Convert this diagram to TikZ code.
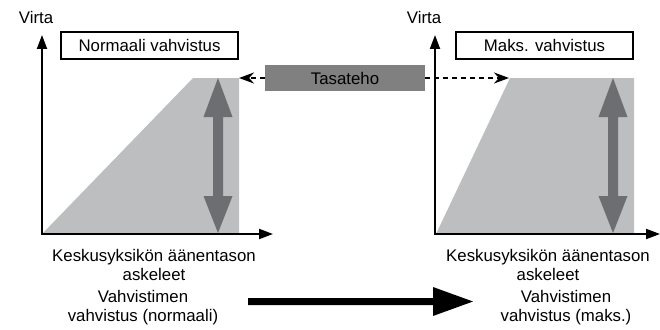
\documentclass[tikz,border=0pt]{standalone}
\usepackage{fontspec}
\setmainfont{Liberation Sans}
\usetikzlibrary{arrows.meta}
\definecolor{lightg}{HTML}{BCBEC0}
\definecolor{darkg}{HTML}{6D6E71}
\definecolor{boxg}{HTML}{808080}
\begin{document}
\begin{tikzpicture}[x=1pt,y=-1pt,
  txt/.style={font=\fontsize{16.8}{20}\selectfont, inner sep=0pt, align=center},
  axis/.style={line width=2pt, -{Triangle[length=14pt,width=10pt]}},
  titlebox/.style={draw=black, line width=2pt, fill=white, minimum width=177pt, minimum height=27pt, inner sep=0pt, font=\fontsize{16.8}{20}\selectfont},
  dasharr/.style={line width=1.6pt, dash pattern=on 5pt off 4pt, -{Stealth[length=15pt,width=11pt]}},
  dbl/.style={fill=darkg}
]
\useasboundingbox (0,0) rectangle (660,329);
% left chart
\fill[lightg] (42,234) -- (193,78) -- (239,78) -- (239,234) -- cycle;
\fill[dbl] (218,78) -- (232.5,117) -- (223,117) -- (223,196) -- (232.5,196) -- (218,233) -- (203.5,196) -- (213,196) -- (213,117) -- (203.5,117) -- cycle;
\coordinate (lo) at (42,235);
\coordinate (ly) at (42,35);
\coordinate (lx) at (273,234);
\draw[axis] (lo) -- (ly);
\draw[axis] (41,234) -- (lx);
\node[txt] (virtaL) at (36,17) {Virta};
\node[titlebox] (normal) at (149.5,45.5) {Normaali vahvistus};
\node[txt] (stepsL) at (154,265) {Keskusyksikön äänentason\\[-1pt]askeleet};
\node[txt] (gainL) at (143,308) {Vahvistimen\\[-1pt]vahvistus (normaali)};
% right chart
\fill[lightg] (436,234) -- (510,78) -- (634,78) -- (634,234) -- cycle;
\fill[dbl] (613,78) -- (627.5,117) -- (618,117) -- (618,196) -- (627.5,196) -- (613,233) -- (598.5,196) -- (608,196) -- (608,117) -- (598.5,117) -- cycle;
\coordinate (ro) at (435,235);
\coordinate (ry) at (435,35);
\coordinate (rx) at (660,234);
\draw[axis] (ro) -- (ry);
\draw[axis] (434,234) -- (rx);
\node[txt] (virtaR) at (424,17) {Virta};
\node[titlebox] (maks) at (544.5,45.5) {Maks. vahvistus};
\node[txt] (stepsR) at (548,265) {Keskusyksikön äänentason\\[-1pt]askeleet};
\node[txt] (gainR) at (566,308) {Vahvistimen\\[-1pt]vahvistus (maks.)};
% Tasateho
\node[fill=boxg, minimum width=160pt, minimum height=26pt, inner sep=0pt, font=\fontsize{16.8}{20}\selectfont] (tasa) at (345,78) {Tasateho};
\coordinate (tl) at (239,78);
\coordinate (tr) at (509,78);
\draw[dasharr] (tasa.west) -- (tl);
\draw[dasharr] (tasa.east) -- (tr);
% big arrow
\fill[black] (248,298) -- (433,298) -- (433,287) -- (473,301.5) -- (433,316) -- (433,305) -- (248,305) -- cycle;
\end{tikzpicture}
\end{document}
